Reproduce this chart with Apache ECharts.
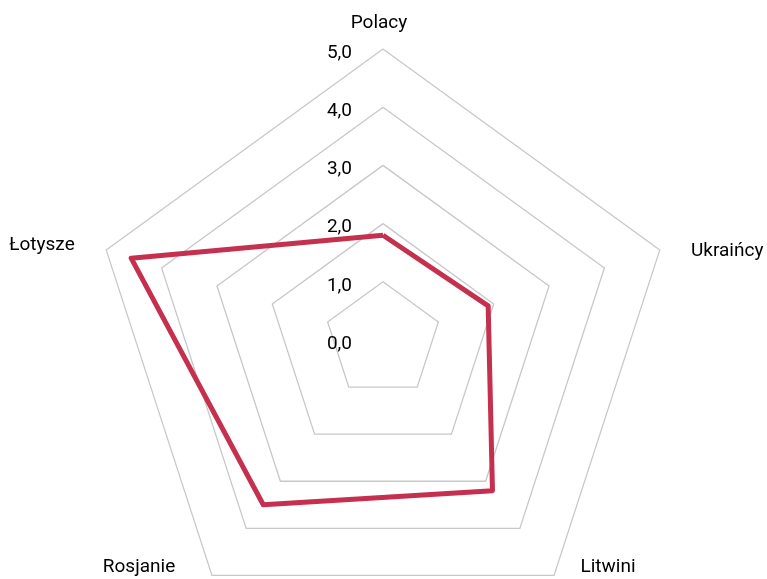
<!DOCTYPE html>
<html>
<head>
<meta charset="utf-8">
<script src="https://cdn.jsdelivr.net/npm/echarts@6/dist/echarts.min.js"></script>
<style>
html,body{margin:0;padding:0;background:#fff;}
#chart{width:767px;height:579px;}
</style>
</head>
<body>
<div id="chart"></div>
<script>
// Categories in clockwise order starting at the top
var categories = ['Polacy', 'Ukraińcy', 'Litwini', 'Rosjanie', 'Łotysze'];
var values = [1.8, 1.9, 3.2, 3.5, 4.55];
var axisMax = 5;
var tickLabels = ['0,0', '1,0', '2,0', '3,0', '4,0', '5,0'];

var FONT = 'Roboto';
var chart = echarts.init(document.getElementById('chart'), null, {renderer: 'canvas'});

// ECharts lays indicators out counter-clockwise: reorder so they read clockwise
var order = [0, 4, 3, 2, 1];

var indicators = order.map(function (idx, i) {
  var ind = {name: categories[idx], min: 0, max: axisMax};
  if (i === 0) {
    ind.axisLabel = {
      show: true,
      margin: 31,
      color: '#000',
      fontFamily: FONT,
      fontSize: 19,
      verticalAlign: 'top',
      lineHeight: 8,
      formatter: function (v) { return tickLabels[Math.round(v)]; }
    };
  }
  return ind;
});
var seriesValues = order.map(function (idx) { return values[idx]; });

// name label placement (layout only), in categories order
var namePos = [
  {x: 379, y: 23, align: 'center'},
  {x: 691, y: 251, align: 'left'},
  {x: 608, y: 567, align: 'center'},
  {x: 139, y: 567, align: 'center'},
  {x: 42, y: 245, align: 'center'}
];

var option = {
  backgroundColor: '#fff',
  animation: false,
  radar: {
    center: [383, 340],
    radius: 291,
    startAngle: 90,
    shape: 'polygon',
    splitNumber: 5,
    indicator: indicators,
    axisName: {show: false},
    axisLine: {show: false},
    axisTick: {show: false},
    axisLabel: {show: false},
    splitArea: {show: false},
    splitLine: {lineStyle: {color: '#c8c8c8', width: 1.3}}
  },
  graphic: categories.map(function (c, i) {
    return {
      type: 'text',
      x: namePos[i].x,
      y: namePos[i].y,
      style: {
        text: c,
        fill: '#000',
        font: '19px ' + FONT,
        textAlign: namePos[i].align,
        textVerticalAlign: 'middle'
      }
    };
  }),
  series: [{
    type: 'radar',
    symbol: 'none',
    lineStyle: {color: '#c5304f', width: 5, join: 'round'},
    data: [{value: seriesValues}]
  }]
};
chart.setOption(option);
</script>
</body>
</html>
